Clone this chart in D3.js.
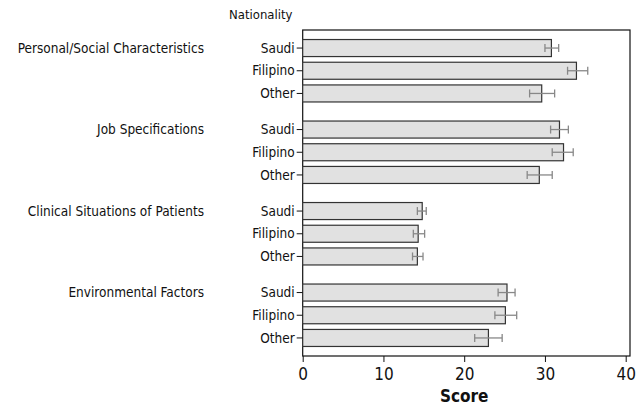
<!DOCTYPE html>
<html>
<head>
<meta charset="utf-8">
<script src="https://cdn.jsdelivr.net/npm/d3@7"></script>
<style>
  body { margin: 0; background: #fff; }
  svg text { font-family: "DejaVu Sans Condensed", "DejaVu Sans", sans-serif; fill: #111; }
</style>
</head>
<body>
<svg width="638" height="406"></svg>
<script>
const groups = ["Personal/Social Characteristics", "Job Specifications", "Clinical Situations of Patients", "Environmental Factors"];
const nationalities = ["Saudi", "Filipino", "Other"];
// mean score per group, in nationality order
const means = [
    [30.8, 33.9, 29.6],
    [31.8, 32.3, 29.3],
    [14.8, 14.3, 14.2],
    [25.3, 25.1, 23.0]
];
const lower = [
    [30.0, 32.8, 28.1],
    [30.7, 30.9, 27.8],
    [14.2, 13.7, 13.6],
    [24.2, 23.8, 21.3]
];
const upper = [
    [31.7, 35.3, 31.2],
    [32.9, 33.5, 30.9],
    [15.3, 15.1, 14.9],
    [26.3, 26.5, 24.7]
];
const xTicks = [0, 10, 20, 30, 40];

const svg = d3.select("svg");
const plotLeft = 302.7, plotRight = 630, plotTop = 30, plotBottom = 356;

const data = [];
groups.forEach((g, i) => {
    nationalities.forEach((n, j) => {
        data.push({ group: g, nat: n, value: means[i][j], lo: lower[i][j], hi: upper[i][j] });
    });
});

const x = d3.scaleLinear().domain([0, 40]).range([plotLeft, 625.7]);
const yGroup = d3.scaleBand().domain(groups).range([plotTop, plotBottom]);
const yNat = d3.scaleBand().domain(nationalities)
    .range([0, yGroup.bandwidth()])
    .paddingInner(0.25)
    .paddingOuter(0.42);

// frame
svg.append("rect")
    .attr("x", plotLeft).attr("y", plotTop)
    .attr("width", plotRight - plotLeft).attr("height", plotBottom - plotTop)
    .attr("fill", "none").attr("stroke", "#111").attr("stroke-width", 1.2);

const rows = svg.append("g").selectAll("g")
    .data(data)
    .enter().append("g")
    .attr("transform", d => `translate(0,${yGroup(d.group) + yNat(d.nat)})`);

rows.append("rect")
    .attr("x", x(0))
    .attr("y", 0)
    .attr("width", d => x(d.value) - x(0))
    .attr("height", yNat.bandwidth())
    .attr("fill", "#e1e1e1")
    .attr("stroke", "#333")
    .attr("stroke-width", 1.2);

// error bars
const h = yNat.bandwidth() / 2;
rows.append("line")
    .attr("x1", d => x(d.lo)).attr("x2", d => x(d.hi))
    .attr("y1", h).attr("y2", h)
    .attr("stroke", "#888").attr("stroke-width", 1.3);
rows.append("line")
    .attr("x1", d => x(d.lo)).attr("x2", d => x(d.lo))
    .attr("y1", h - 4).attr("y2", h + 4)
    .attr("stroke", "#888").attr("stroke-width", 1.3);
rows.append("line")
    .attr("x1", d => x(d.hi)).attr("x2", d => x(d.hi))
    .attr("y1", h - 4).attr("y2", h + 4)
    .attr("stroke", "#888").attr("stroke-width", 1.3);

// nationality ticks and labels
rows.append("line")
    .attr("x1", plotLeft - 6).attr("x2", plotLeft)
    .attr("y1", h).attr("y2", h)
    .attr("stroke", "#111");
rows.append("text")
    .attr("x", plotLeft - 8)
    .attr("y", h)
    .attr("dy", "0.35em")
    .attr("text-anchor", "end")
    .style("font-size", "13.5px")
    .text(d => d.nat);

// group labels, level with first bar
svg.append("g").selectAll("text")
    .data(groups)
    .enter().append("text")
    .attr("x", 204)
    .attr("y", g => yGroup(g) + yNat(nationalities[0]) + h)
    .attr("dy", "0.35em")
    .attr("text-anchor", "end")
    .style("font-size", "13.5px")
    .text(g => g);

svg.append("text")
    .attr("x", 229).attr("y", 14)
    .attr("dy", "0.35em")
    .style("font-size", "13px")
    .text("Nationality");

// x axis
const xAxis = svg.append("g")
    .attr("transform", `translate(0,${plotBottom})`)
    .call(d3.axisBottom(x).tickValues(xTicks).tickSize(6).tickSizeOuter(0));
xAxis.select(".domain").remove();
xAxis.selectAll("line").attr("stroke", "#111");
xAxis.selectAll("text")
    .style("font-size", "17px")
    .style("font-family", "\"DejaVu Sans Condensed\", sans-serif")
    .attr("fill", "#111")
    .attr("dy", "0.9em");

svg.append("text")
    .attr("x", x(20)).attr("y", 402)
    .attr("text-anchor", "middle")
    .style("font-size", "17px")
    .style("font-weight", "bold")
    .text("Score");
</script>
</body>
</html>
